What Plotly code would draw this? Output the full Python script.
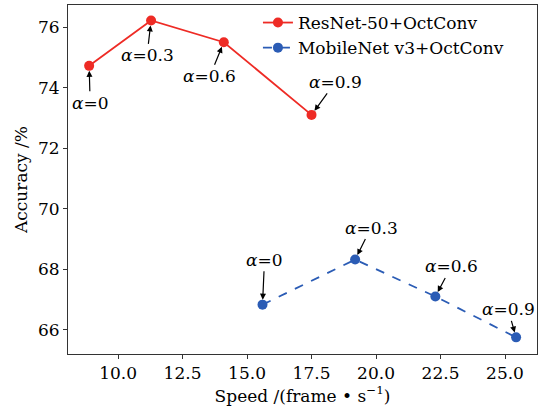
import plotly.graph_objects as go

# Data
resnet_speed = [8.88, 11.28, 14.1, 17.5]
resnet_acc = [74.72, 76.22, 75.5, 73.1]
mobilenet_speed = [15.6, 19.19, 22.3, 25.43]
mobilenet_acc = [66.83, 68.32, 67.1, 65.75]
alpha_labels = ["0", "0.3", "0.6", "0.9"]
x_ticks = [10.0, 12.5, 15.0, 17.5, 20.0, 22.5, 25.0]
y_ticks = [66, 68, 70, 72, 74, 76]

# Annotation offsets (pixels) for text relative to points
resnet_offsets = [(1, 37), (-4, 35), (-14, 34), (24, -33)]
mobilenet_offsets = [(2, -45), (16, -32), (16, -30), (-8, -28)]

RED = "#ee2b25"
BLUE = "#2b5cb5"
FONT = "DejaVu Serif"
FS = 17

fig = go.Figure()
fig.add_trace(go.Scatter(
    x=resnet_speed, y=resnet_acc, mode="lines+markers",
    name="ResNet-50+OctConv",
    line=dict(color=RED, width=1.8),
    marker=dict(color=RED, size=10),
))
fig.add_trace(go.Scatter(
    x=mobilenet_speed, y=mobilenet_acc, mode="lines+markers",
    name="MobileNet v3+OctConv",
    line=dict(color=BLUE, width=1.8, dash="dash"),
    marker=dict(color=BLUE, size=10),
))

annotations = []
for xs, ys, offs in [(resnet_speed, resnet_acc, resnet_offsets),
                     (mobilenet_speed, mobilenet_acc, mobilenet_offsets)]:
    for x, y, lab, (ax, ay) in zip(xs, ys, alpha_labels, offs):
        annotations.append(dict(
            x=x, y=y, xref="x", yref="y",
            text="<i>α</i>=" + lab,
            showarrow=True, arrowhead=2, arrowsize=1, arrowwidth=1.2,
            arrowcolor="black", ax=ax, ay=ay, standoff=5,
            font=dict(family=FONT, size=FS, color="black"),
        ))

fig.update_layout(
    width=538, height=409,
    margin=dict(l=68, r=1, t=5, b=55),
    paper_bgcolor="white", plot_bgcolor="white",
    font=dict(family=FONT, size=FS, color="black"),
    showlegend=True,
    legend=dict(x=0.405, y=1.0, xanchor="left", yanchor="top",
                bgcolor="rgba(0,0,0,0)", font=dict(family=FONT, size=FS),
                tracegroupgap=0, itemwidth=30),
    annotations=annotations,
)
fig.update_xaxes(
    range=[8.06, 26.24], tickvals=x_ticks,
    ticktext=[f"{v:.1f}" for v in x_ticks],
    showgrid=False, zeroline=False,
    showline=True, linecolor="#333333", linewidth=1, mirror=True,
    ticks="outside", ticklen=4, tickcolor="#333333",
    title=dict(text="Speed /(frame • s<sup>−1</sup>)", standoff=6,
               font=dict(family=FONT, size=FS)),
    tickfont=dict(family=FONT, size=FS),
)
fig.update_yaxes(
    range=[65.2, 76.73], tickvals=y_ticks,
    showgrid=False, zeroline=False,
    showline=True, linecolor="#333333", linewidth=1, mirror=True,
    ticks="outside", ticklen=4, tickcolor="#333333",
    title=dict(text="Accuracy /%", standoff=6,
               font=dict(family=FONT, size=FS)),
    tickfont=dict(family=FONT, size=FS),
)

fig.write_html("out.html")
